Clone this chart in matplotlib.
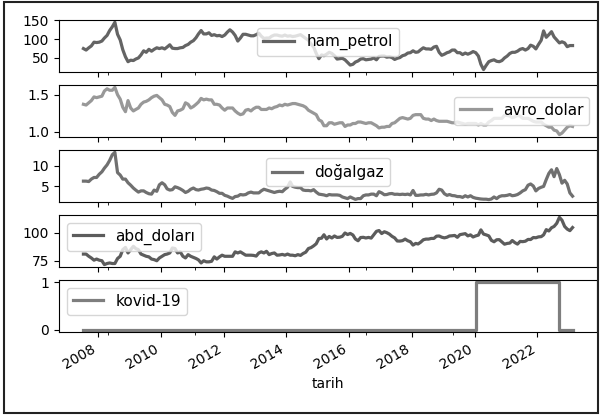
import matplotlib
matplotlib.use("Agg")
import matplotlib.pyplot as plt
import matplotlib.dates as mdates
from matplotlib.patches import Rectangle
import pandas as pd

# Monthly observations, Jul 2007 - Feb 2023
tarih = pd.date_range("2007-07-01", "2023-02-01", freq="MS") + pd.Timedelta(days=14)

ham_petrol = [
    75, 71, 77, 82, 92, 91,
    92, 95, 103, 110, 123, 133, 145, 113, 98, 72, 53, 40,
    44, 43, 47, 50, 58, 69, 65, 73, 68, 73, 77, 75,
    77, 74, 79, 85, 76, 75, 75, 77, 78, 83, 86, 92,
    96, 104, 114, 123, 114, 114, 117, 110, 112, 109, 110, 107,
    111, 119, 125, 119, 110, 95, 103, 113, 113, 111, 109, 109,
    112, 116, 108, 102, 103, 103, 108, 111, 111, 109, 108, 111,
    108, 109, 107, 108, 110, 112, 107, 102, 97, 87, 79, 62,
    48, 58, 56, 60, 65, 62, 56, 47, 48, 49, 45, 38,
    31, 33, 39, 42, 47, 48, 45, 46, 47, 50, 45, 54,
    55, 55, 52, 53, 51, 46, 49, 51, 56, 58, 63, 64,
    69, 65, 66, 72, 77, 74, 74, 73, 79, 81, 65, 57,
    60, 64, 66, 71, 71, 64, 64, 59, 63, 60, 63, 67,
    64, 55, 33, 19, 30, 40, 43, 45, 41, 40, 43, 50,
    55, 62, 65, 65, 68, 73, 75, 71, 75, 84, 81, 74,
    86, 97, 122, 105, 112, 120, 106, 98, 90, 93, 90, 80,
    83, 83,
]

avro_dolar = [
    1.37, 1.36, 1.39, 1.42, 1.47, 1.46,
    1.47, 1.48, 1.55, 1.58, 1.56, 1.56, 1.60, 1.50, 1.44, 1.33, 1.27, 1.42,
    1.32, 1.28, 1.30, 1.32, 1.37, 1.40, 1.41, 1.43, 1.46, 1.48, 1.49, 1.46,
    1.43, 1.37, 1.36, 1.34, 1.26, 1.22, 1.28, 1.29, 1.31, 1.39, 1.37, 1.32,
    1.34, 1.37, 1.40, 1.45, 1.43, 1.44, 1.43, 1.43, 1.37, 1.37, 1.36, 1.32,
    1.29, 1.32, 1.32, 1.32, 1.28, 1.25, 1.23, 1.24, 1.29, 1.30, 1.28, 1.31,
    1.33, 1.33, 1.30, 1.30, 1.30, 1.32, 1.31, 1.33, 1.34, 1.36, 1.35, 1.37,
    1.36, 1.37, 1.38, 1.38, 1.37, 1.36, 1.35, 1.33, 1.29, 1.27, 1.25, 1.23,
    1.16, 1.14, 1.08, 1.08, 1.12, 1.12, 1.10, 1.11, 1.12, 1.12, 1.07, 1.09,
    1.09, 1.11, 1.11, 1.13, 1.13, 1.12, 1.11, 1.12, 1.12, 1.10, 1.08, 1.05,
    1.06, 1.06, 1.07, 1.07, 1.11, 1.12, 1.15, 1.18, 1.19, 1.18, 1.17, 1.18,
    1.22, 1.23, 1.23, 1.23, 1.18, 1.17, 1.17, 1.15, 1.17, 1.15, 1.14, 1.14,
    1.14, 1.14, 1.13, 1.12, 1.12, 1.13, 1.12, 1.11, 1.10, 1.11, 1.11, 1.11,
    1.11, 1.09, 1.11, 1.09, 1.09, 1.13, 1.15, 1.18, 1.18, 1.18, 1.18, 1.22,
    1.22, 1.21, 1.19, 1.20, 1.22, 1.21, 1.18, 1.18, 1.18, 1.16, 1.14, 1.13,
    1.13, 1.13, 1.10, 1.08, 1.06, 1.06, 1.02, 1.01, 0.96, 0.98, 1.02, 1.06,
    1.08, 1.07,
]

dogalgaz = [
    6.2, 6.2, 6.1, 6.7, 7.1, 7.1,
    7.9, 8.5, 9.4, 10.2, 11.3, 12.7, 13.3, 8.3, 7.7, 6.7, 6.7, 5.8,
    5.2, 4.5, 4.0, 3.5, 3.8, 3.8, 3.4, 3.1, 3.0, 4.0, 3.7, 5.3,
    5.8, 5.3, 4.3, 4.0, 4.1, 4.8, 4.6, 4.3, 3.9, 3.4, 3.7, 4.2,
    4.5, 4.1, 4.0, 4.2, 4.3, 4.5, 4.4, 4.0, 3.9, 3.6, 3.2, 3.2,
    2.7, 2.5, 2.2, 1.95, 2.4, 2.5, 2.9, 2.8, 2.9, 3.3, 3.5, 3.3,
    3.3, 3.3, 3.8, 4.2, 4.0, 3.8, 3.6, 3.4, 3.6, 3.7, 3.6, 4.2,
    4.7, 6.0, 4.9, 4.7, 4.6, 4.6, 4.0, 3.9, 3.9, 3.8, 4.1, 3.5,
    3.0, 2.9, 2.8, 2.6, 2.9, 2.8, 2.8, 2.8, 2.7, 2.3, 2.1, 1.9,
    2.3, 2.0, 1.7, 1.9, 1.9, 2.6, 2.8, 2.8, 3.0, 3.0, 2.6, 3.6,
    3.3, 2.85, 2.9, 3.1, 3.15, 2.95, 2.98, 2.9, 2.98, 2.9, 3.0, 2.8,
    3.9, 2.7, 2.7, 2.8, 2.8, 2.95, 2.8, 2.95, 3.0, 3.3, 4.2, 4.0,
    3.1, 2.7, 2.9, 2.65, 2.6, 2.4, 2.4, 2.2, 2.6, 2.3, 2.6, 2.2,
    2.0, 1.9, 1.8, 1.75, 1.75, 1.65, 1.8, 2.3, 1.9, 2.4, 2.6, 2.6,
    2.7, 2.9, 2.6, 2.7, 2.9, 3.3, 3.8, 4.1, 5.2, 5.5, 5.0, 3.8,
    4.4, 4.7, 4.9, 6.6, 8.1, 9.0, 7.3, 9.3, 7.8, 5.7, 6.4, 5.5,
    3.3, 2.5,
]

abd_dolari = [
    81, 81, 79, 77.5, 75.5, 76.5,
    75.5, 75, 71.5, 72.5, 73, 72.5, 72.5, 77, 79, 85, 87, 82,
    85, 88, 86, 85, 81, 80, 79, 78.5, 76.5, 76, 75, 77.5,
    79, 80.5, 81, 82, 86.5, 86, 82, 83, 79, 77.5, 80.5, 79,
    78, 77, 75.8, 73, 75, 74, 74, 74.5, 78.5, 76.5, 78.5, 80,
    79, 79, 79, 79, 83, 82, 83, 81.5, 80, 80, 80, 79.8,
    79.2, 82, 83, 82, 83.5, 80.5, 81.5, 82, 80, 80.2, 80.7, 80,
    81, 80, 80, 79.5, 80.5, 79.8, 81.5, 82.7, 86, 86.8, 88.4, 90.3,
    95, 95.3, 98.4, 94.6, 96.9, 95.5, 97.3, 96, 96.2, 97, 100, 98.6,
    99.6, 98.2, 94.6, 93, 95.9, 96.1, 95.5, 96, 95.4, 98.4, 101.5, 102.2,
    99.5, 101.1, 100.3, 99, 97, 95.6, 92.8, 92.7, 93.1, 94.5, 93, 92.1,
    89.1, 90.6, 90.1, 91.8, 93.9, 94.5, 94.5, 95.1, 95.1, 97.1, 97.3, 96.2,
    95.6, 96.2, 97.3, 97.5, 97.8, 96.1, 98.5, 98.9, 99.4, 97.4, 98.3, 96.4,
    97.4, 98.1, 102.8, 99, 98.3, 97.4, 93.4, 92.1, 93.9, 94, 91.9, 89.9,
    90.6, 90.9, 93.2, 91.3, 90, 92.4, 92.2, 92.6, 94.2, 94.1, 95.9, 95.7,
    96.5, 96.7, 98.3, 103, 101.8, 104.7, 105.9, 108.7, 114.1, 111.5, 105.9, 103.5,
    102.1, 104.9,
]

kovid_19 = [0] * 150 + [1] * 32 + [0] * 6

seriler = ["ham_petrol", "avro_dolar", "doğalgaz", "abd_doları", "kovid-19"]
degerler = [ham_petrol, avro_dolar, dogalgaz, abd_dolari, kovid_19]
renkler = ["#646464", "#989898", "#707070", "#5c5c5c", "#7e7e7e"]
y_tikler = [[50, 100, 150], [1.0, 1.5], [5, 10], [75, 100], [0, 1]]
y_etiket = [["50", "100", "150"], ["1.0", "1.5"], ["5", "10"], ["75", "100"], ["0", "1"]]
lejant_yer = [
    dict(loc="center", bbox_to_anchor=(0.5, 0.57)),
    dict(loc="center right"),
    dict(loc="center", bbox_to_anchor=(0.5, 0.57)),
    dict(loc="upper left"),
    dict(loc="upper left"),
]
ara_tikler = ["2008-04-25", "2011-01-30", "2016-07-12", "2019-04-20"]

fig, axes = plt.subplots(
    5, 1, figsize=(6.0, 4.15), dpi=100, sharex=True,
    gridspec_kw=dict(left=0.0983, right=0.995, top=0.952, bottom=0.2, hspace=0.25),
)

for ax, ad, veri, renk, tik, etk, lej in zip(axes, seriler, degerler, renkler,
                                               y_tikler, y_etiket, lejant_yer):
    stil = "steps-post" if ad == "kovid-19" else "default"
    ax.plot(tarih, veri, color=renk, lw=2.3, label=ad, drawstyle=stil)
    ax.set_yticks(tik)
    ax.set_yticklabels(etk)
    ax.legend(fontsize=11, **lej)

ax_son = axes[-1]
ax_son.xaxis.set_major_locator(mdates.YearLocator(2))
ax_son.xaxis.set_major_formatter(mdates.DateFormatter("%Y"))
ax_son.xaxis.set_minor_locator(
    matplotlib.ticker.FixedLocator([mdates.datestr2num(d) for d in ara_tikler]))
for ax in axes[:-1]:
    ax.tick_params(axis="x", labelbottom=False)
for lbl in ax_son.get_xticklabels():
    lbl.set_rotation(30)
    lbl.set_ha("right")
ax_son.set_xlabel("tarih")

fig.patches.append(Rectangle((0.007, 0.005), 0.99, 0.99, transform=fig.transFigure,
                             fill=False, edgecolor="#222222", linewidth=1.5))

fig.savefig("out.png", dpi=100)
